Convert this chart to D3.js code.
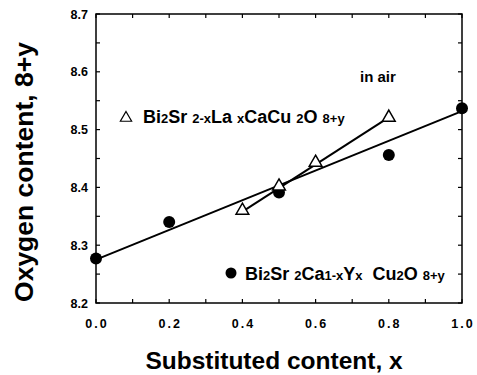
<!DOCTYPE html>
<html><head><meta charset="utf-8">
<script src="https://cdn.jsdelivr.net/npm/d3@7"></script>
<style>body{margin:0;background:#fff}svg{display:block}text{font-family:"Liberation Sans",Arial,sans-serif;fill:#000}</style>
</head><body>
<script>
// Data
const yX = [0.0, 0.2, 0.5, 0.8, 1.0];
const yVals = [8.277, 8.340, 8.391, 8.456, 8.537];
const laX = [0.4, 0.5, 0.6, 0.8];
const laVals = [8.360, 8.402, 8.443, 8.521];
const yFitX = [0.0, 1.0];
const yFitVals = [8.275, 8.532];
const laFitX = [0.4, 0.8];
const laFitVals = [8.358, 8.521];
const xTicks = [0.0, 0.2, 0.4, 0.6, 0.8, 1.0];
const yTicks = [8.2, 8.3, 8.4, 8.5, 8.6, 8.7];

const W = 477, H = 375;
const svg = d3.select("body").append("svg").attr("width", W).attr("height", H);
const L = 96, R = 462, T = 14, B = 303;
const x = d3.scaleLinear().domain([0, 1]).range([L, R]);
const y = d3.scaleLinear().domain([8.2, 8.7]).range([B, T]);

// frame
svg.append("rect").attr("x", L).attr("y", T).attr("width", R - L).attr("height", B - T)
  .attr("fill", "none").attr("stroke", "#000").attr("stroke-width", 1.5);

// ticks (inward)
const xt = d3.range(0, 1.0001, 0.1);
const yt = d3.range(8.2, 8.7001, 0.05);
const tl = 4;
const g = svg.append("g").attr("stroke", "#000").attr("stroke-width", 1.2);
xt.forEach(v => {
  g.append("line").attr("x1", x(v)).attr("x2", x(v)).attr("y1", B).attr("y2", B - tl);
  g.append("line").attr("x1", x(v)).attr("x2", x(v)).attr("y1", T).attr("y2", T + tl);
});
yt.forEach(v => {
  g.append("line").attr("y1", y(v)).attr("y2", y(v)).attr("x1", L).attr("x2", L + tl);
  g.append("line").attr("y1", y(v)).attr("y2", y(v)).attr("x1", R).attr("x2", R - tl);
});

// tick labels
svg.selectAll(".xl").data(xTicks).enter().append("text")
  .attr("x", d => x(d) + 1).attr("y", 328).attr("text-anchor", "middle")
  .attr("font-size", 12.5).attr("font-weight", "bold").attr("letter-spacing", 2)
  .text(d => d.toFixed(1));
svg.selectAll(".yl").data(yTicks).enter().append("text")
  .attr("x", L - 8).attr("y", d => y(d) + 4.5).attr("text-anchor", "end")
  .attr("font-size", 12.5).attr("font-weight", "bold")
  .text(d => d.toFixed(1));

// axis titles
svg.append("text").attr("x", 274).attr("y", 369).attr("text-anchor", "middle")
  .attr("font-size", 24.5).attr("font-weight", "bold").text("Substituted content, x");
svg.append("text").attr("transform", "translate(33,172) rotate(-90)")
  .attr("text-anchor", "middle").attr("font-size", 26.5).attr("font-weight", "bold")
  .text("Oxygen content, 8+y");

// fit lines
const line = d3.line().x(d => x(d[0])).y(d => y(d[1]));
svg.append("path").attr("d", line(yFitX.map((v, i) => [v, yFitVals[i]])))
  .attr("fill", "none").attr("stroke", "#000").attr("stroke-width", 2);
svg.append("path").attr("d", line(laFitX.map((v, i) => [v, laFitVals[i]])))
  .attr("fill", "none").attr("stroke", "#000").attr("stroke-width", 2);

// circles
svg.selectAll(".c").data(yX).enter().append("circle")
  .attr("cx", d => x(d)).attr("cy", (d, i) => y(yVals[i])).attr("r", 6).attr("fill", "#000");

// triangles
const tri = d3.symbol().type(d3.symbolTriangle).size(70);
svg.selectAll(".t").data(laX).enter().append("path")
  .attr("d", tri).attr("transform", (d, i) => `translate(${x(d)},${y(laVals[i])})`)
  .attr("fill", "#fff").attr("stroke", "#000").attr("stroke-width", 1.5);

// annotations
svg.append("text").attr("x", 360).attr("y", 82).attr("font-size", 15).attr("font-weight", "bold").text("in air");

// legend La
svg.append("path").attr("d", d3.symbol().type(d3.symbolTriangle).size(55))
  .attr("transform", "translate(126,118)").attr("fill", "#fff").attr("stroke", "#000").attr("stroke-width", 1.2);
const t1 = svg.append("text").attr("x", 143).attr("y", 123).attr("font-size", 18).attr("font-weight", "bold");
[["Bi",18],["2",13],["Sr ",18],["2-x",13],["La ",18],["x",13],["CaCu ",18],["2",13],["O ",18],["8+y",13]]
  .forEach(([s, f]) => t1.append("tspan").attr("font-size", f).text(s));

// legend Y
svg.append("circle").attr("cx", 231).attr("cy", 273).attr("r", 5.5).attr("fill", "#000");
const t2 = svg.append("text").attr("x", 245).attr("y", 280).attr("font-size", 18).attr("font-weight", "bold");
[["Bi",18],["2",13],["Sr ",18],["2",13],["Ca",18],["1-x",13],["Y",18],["x",13],["  Cu",18],["2",13],["O ",18],["8+y",13]]
  .forEach(([s, f]) => t2.append("tspan").attr("font-size", f).attr("xml:space","preserve").text(s));
</script>
</body></html>
